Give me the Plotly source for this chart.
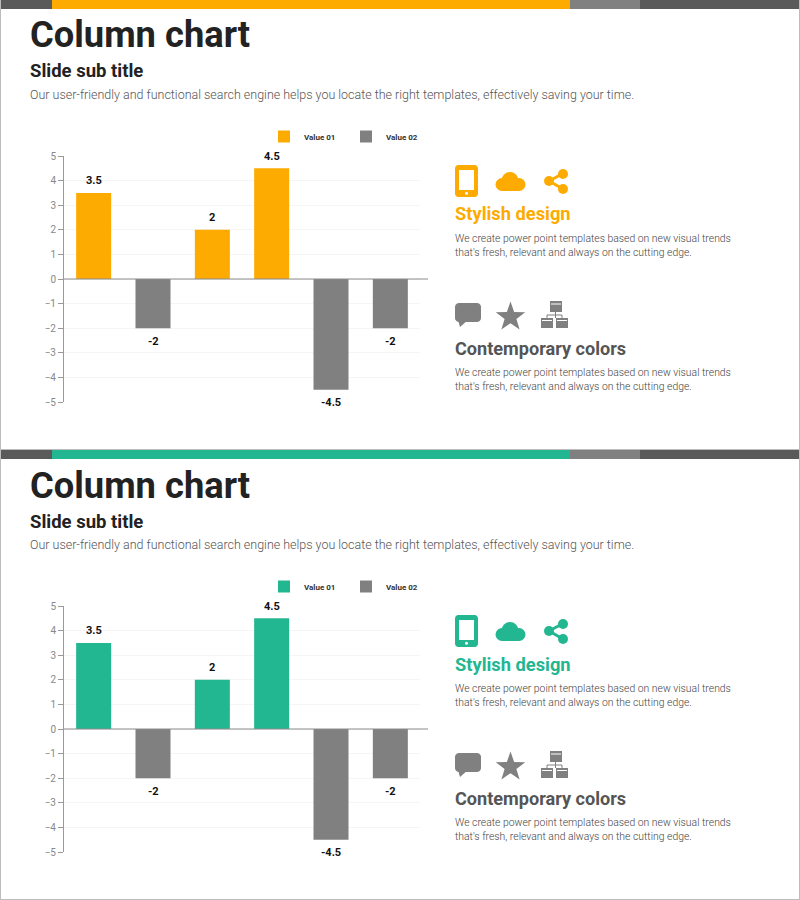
import math
import plotly.graph_objects as go

categories = ["A", "B", "C", "D", "E", "F"]
value_01 = [3.5, None, 2, 4.5, None, None]
value_02 = [None, -2, None, None, -4.5, -2]
series_names = ["Value 01", "Value 02"]
y_ticks = [5, 4, 3, 2, 1, 0, -1, -2, -3, -4, -5]

title_text = "Column chart"
subtitle_text = "Slide sub title"
intro_text = "Our user-friendly and functional search engine helps you locate the right templates, effectively saving your time."
head_1 = "Stylish design"
head_2 = "Contemporary colors"
body_text = "We create power point templates based on new visual trends<br>that's fresh, relevant and always on the cutting edge."

ORANGE = "#fdab00"
GREEN = "#22b691"
GRAY = "#808080"
DARK = "#5a5a5a"
FONT = "Roboto"
W, H = 800, 900


def X(v):
    return v / W


def Y(v):
    return 1 - v / H


fig = go.Figure()
shapes = []
annotations = []


def rect(x0, y0, x1, y1, color):
    shapes.append(dict(type="rect", xref="paper", yref="paper", x0=X(x0), x1=X(x1), y0=Y(y0), y1=Y(y1),
                       fillcolor=color, line=dict(width=0), layer="above"))


def circle(cx, cy, r, color):
    shapes.append(dict(type="circle", xref="paper", yref="paper", x0=X(cx - r), x1=X(cx + r), y0=Y(cy - r), y1=Y(cy + r),
                       fillcolor=color, line=dict(width=0), layer="above"))


def seg(x0, y0, x1, y1, color, w):
    shapes.append(dict(type="line", xref="paper", yref="paper", x0=X(x0), x1=X(x1), y0=Y(y0), y1=Y(y1),
                       line=dict(color=color, width=w), layer="above"))


def poly(points, color):
    d = "M" + " L".join(f"{X(a):.5f},{Y(b):.5f}" for a, b in points) + " Z"
    shapes.append(dict(type="path", xref="paper", yref="paper", path=d, fillcolor=color, line=dict(width=0), layer="above"))


def rrect(x0, y0, x1, y1, r, color):
    pts = []
    for cx, cy, a0 in [(x1 - r, y0 + r, -90), (x1 - r, y1 - r, 0), (x0 + r, y1 - r, 90), (x0 + r, y0 + r, 180)]:
        for k in range(7):
            a = math.radians(a0 + 15 * k)
            pts.append((cx + r * math.cos(a), cy + r * math.sin(a)))
    poly(pts, color)


def text(x, y, s, size, color, weight=400, family=FONT, anchor="left"):
    annotations.append(dict(xref="paper", yref="paper", x=X(x), y=Y(y), text=s, showarrow=False, xanchor=anchor,
                            yanchor="middle", align="left", xshift=-1, borderpad=0,
                            font=dict(size=size, color=color, family=family, weight=weight)))


def slide(off, accent, n):
    xa, ya = ("xaxis", "yaxis") if n == 1 else ("xaxis2", "yaxis2")
    xr, yr = ("x", "y") if n == 1 else ("x2", "y2")
    leg = "legend" if n == 1 else "legend2"

    # Frame + top band
    rect(0, off - 1 if off else 0, 800, off + 1 if off else 1, "#bdbdbd")
    rect(0, off, 52, off + 9, DARK)
    rect(52, off, 570, off + 9, accent)
    rect(570, off, 640, off + 9, GRAY)
    rect(640, off, 800, off + 9, DARK)

    # Heading block
    text(30, off + 35, title_text, 36.3, "#222222", 700)
    text(30, off + 71.5, subtitle_text, 18.5, "#222222", 700)
    text(30, off + 94, intro_text, 12.47, "#555555", 300)

    # Traces
    fig.add_trace(go.Bar(x=categories, y=value_01, name=series_names[0], marker=dict(color=accent, line=dict(width=0)),
                         width=0.59, xaxis=xr, yaxis=yr, legend=leg, hoverinfo="skip"))
    fig.add_trace(go.Bar(x=categories, y=value_02, name=series_names[1], marker=dict(color=GRAY, line=dict(width=0)),
                         width=0.59, xaxis=xr, yaxis=yr, legend=leg, hoverinfo="skip"))

    for cat, a, b in zip(categories, value_01, value_02):
        v = a if a is not None else b
        annotations.append(dict(xref=xr, yref=yr, x=cat, y=v, text=f"{v:g}", showarrow=False, xanchor="center", yanchor="middle",
                                yshift=12 if v > 0 else -13, font=dict(size=11, color="#111111", family=FONT, weight=700)))

    layout_update = {
        xa: dict(domain=[X(64), X(420)], range=[-0.5, 5.5], type="category", categoryorder="array", categoryarray=categories,
                 showticklabels=False, ticks="", showgrid=False, zeroline=False, showline=False, anchor=yr,
                 fixedrange=True),
        ya: dict(domain=[Y(off + 402), Y(off + 156)], range=[-5, 5], tickvals=y_ticks, ticks="outside", ticklen=5, tickwidth=1,
                 tickcolor="#999999", showline=True, linecolor="#999999", linewidth=1, gridcolor="#f5f5f5", gridwidth=1,
                 zeroline=False, anchor=xr, tickfont=dict(size=10, color="#888888", family=FONT), fixedrange=True),
        leg: dict(orientation="h", x=X(264), y=Y(off + 122), xanchor="left", yanchor="top", entrywidth=37, entrywidthmode="pixels",
                  itemwidth=30, bgcolor="rgba(0,0,0,0)", font=dict(size=8, color="#333333", family=FONT, weight=700),
                  traceorder="normal", itemclick=False, itemdoubleclick=False),
    }
    fig.update_layout(**layout_update)

    # Zero line extends past the grid
    shapes.append(dict(type="line", xref=f"{xr} domain", yref=yr, x0=0, x1=364 / 356, y0=0, y1=0,
                       line=dict(color="#8c8c8c", width=1.2), layer="above"))

    # Phone icon
    rrect(455, off + 165, 478, off + 197, 3.5, accent)
    rect(459, off + 170, 474, off + 190, "#ffffff")
    circle(466.5, off + 193.3, 1.5, "#ffffff")
    # Cloud icon
    circle(502, off + 184.5, 6.5, accent)
    circle(510, off + 180.5, 8.5, accent)
    circle(519, off + 184.5, 6.5, accent)
    rect(502, off + 182, 519, off + 191, accent)
    # Share icon
    seg(549, off + 181, 563, off + 173.5, accent, 3)
    seg(549, off + 181, 563, off + 189, accent, 3)
    circle(549, off + 181, 5, accent)
    circle(563, off + 174, 5, accent)
    circle(563, off + 189, 5, accent)

    text(455, off + 214, head_1, 18.3, accent, 700)
    text(455, off + 245.5, body_text, 10.4, "#444444", 300)

    # Speech bubble icon
    rrect(455, off + 303, 481, off + 322, 4, GRAY)
    poly([(458, off + 320), (460, off + 327), (468, off + 320)], GRAY)
    # Star icon
    cx, cy = 510.5, off + 317
    pts = []
    for k in range(10):
        r = 15.5 if k % 2 == 0 else 6.2
        a = math.radians(-90 + 36 * k)
        pts.append((cx + r * math.cos(a), cy + r * math.sin(a)))
    poly(pts, GRAY)
    # Org chart icon
    rect(550, off + 301, 562, off + 312, GRAY)
    seg(551, off + 304, 561, off + 304, "#ffffff", 1)
    seg(555.5, off + 312, 555.5, off + 318, GRAY, 1)
    seg(547, off + 315, 562, off + 315, GRAY, 1)
    seg(547, off + 315, 547, off + 318, GRAY, 1)
    seg(562, off + 315, 562, off + 318, GRAY, 1)
    rect(541, off + 318, 553, off + 328, GRAY)
    rect(556, off + 318, 568, off + 328, GRAY)
    seg(542, off + 320.5, 552, off + 320.5, "#ffffff", 1)
    seg(557, off + 320.5, 567, off + 320.5, "#ffffff", 1)

    text(455, off + 348, head_2, 18.1, "#555555", 700)
    text(455, off + 379.5, body_text, 10.4, "#444444", 300)


slide(0, ORANGE, 1)
slide(450, GREEN, 2)

# Frame edges
rect(0, 0, 1, 900, "#bdbdbd")
rect(799, 0, 800, 900, "#bdbdbd")
rect(0, 899, 800, 900, "#bdbdbd")

fig.update_layout(width=W, height=H, margin=dict(l=0, r=0, t=0, b=0, autoexpand=False), paper_bgcolor="#ffffff", plot_bgcolor="#ffffff",
                  barmode="overlay", showlegend=True, shapes=shapes, annotations=annotations,
                  font=dict(family=FONT))

fig.write_html("out.html", config=dict(displayModeBar=False),
               post_script="document.body.style.margin='0';document.documentElement.style.overflow='hidden';")
